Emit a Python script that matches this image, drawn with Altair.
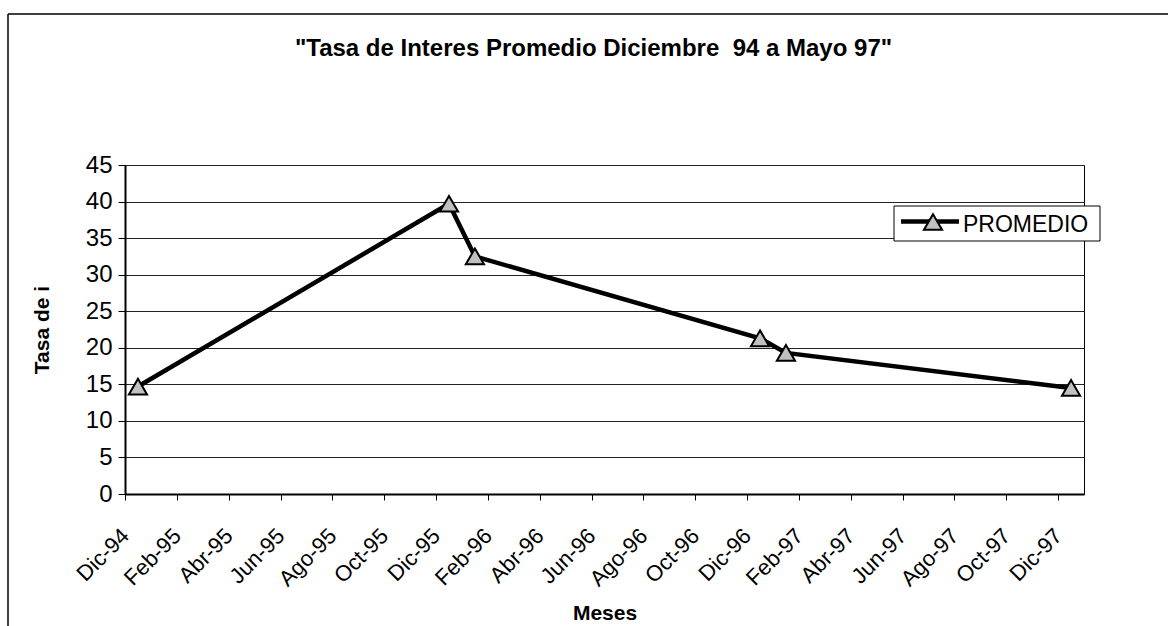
import altair as alt
import pandas as pd

# ---- data ----
meses = ["Dic-94", "Dic-95", "Ene-96", "Dic-96", "Ene-97", "Dic-97"]
promedio = [14.7, 39.7, 32.5, 21.3, 19.3, 14.5]
serie = "PROMEDIO"
tick_labels = ["Dic-94", "Feb-95", "Abr-95", "Jun-95", "Ago-95", "Oct-95",
               "Dic-95", "Feb-96", "Abr-96", "Jun-96", "Ago-96", "Oct-96",
               "Dic-96", "Feb-97", "Abr-97", "Jun-97", "Ago-97", "Oct-97",
               "Dic-97"]
# double space in the original kept with a non-breaking space
titulo = '"Tasa de Interes Promedio Diciembre \u00a094 a Mayo 97"'
y_titulo = "Tasa de i"
x_titulo = "Meses"

abbr = {"Ene": 1, "Feb": 2, "Mar": 3, "Abr": 4, "May": 5, "Jun": 6,
        "Jul": 7, "Ago": 8, "Sep": 9, "Oct": 10, "Nov": 11, "Dic": 12}


def month_index(lbl):
    m, y = lbl.split("-")
    return (int(y) - 94) * 12 + abbr[m] - 12  # Dic-94 -> 0


# Excel date axis: each month is a slot, point centred in its slot
df = pd.DataFrame({
    "mes": meses,
    "pos": [month_index(m) + 0.5 for m in meses],
    "valor": promedio,
})

FONT = "Liberation Sans"
W, H = 959, 329
PAD = {"left": 125, "top": 165, "right": 84, "bottom": 132}

label_expr = "[" + ",".join("'%s'" % t for t in tick_labels) + "][round(datum.value/2)]"
n_months = month_index(tick_labels[-1]) + 1

x_enc = alt.X("pos:Q",
              scale=alt.Scale(domain=[0, n_months], nice=False, zero=False),
              axis=alt.Axis(values=list(range(0, n_months, 2)), labelExpr=label_expr,
                            labelAngle=-45, labelAlign="right", labelBaseline="middle",
                            labelPadding=32, labelFont=FONT, labelFontSize=22,
                            labelColor="black", tickColor="black", tickSize=6,
                            domainColor="black", domainWidth=2, grid=False,
                            title=x_titulo, titleFont=FONT, titleFontSize=21,
                            titleFontWeight="bold", titleColor="black",
                            titleY=125, titleBaseline="alphabetic", labelOverlap=False))
y_enc = alt.Y("valor:Q",
              scale=alt.Scale(domain=[0, 45], nice=False),
              axis=alt.Axis(values=list(range(0, 46, 5)), labelFont=FONT, labelFontSize=24,
                            labelColor="black", tickColor="black", tickSize=7,
                            labelPadding=6, domainColor="black", domainWidth=2,
                            labelOverlap=False,
                            grid=True, gridColor="#222", gridWidth=1,
                            title=y_titulo, titleFont=FONT, titleFontSize=21,
                            titleFontWeight="bold", titleColor="black",
                            titleX=-83, titleY=H / 2, titleAngle=-90,
                            titleAlign="center", titleBaseline="middle"))

line = alt.Chart(df).mark_line(color="black", strokeWidth=4.5).encode(x=x_enc, y=y_enc)
pts = alt.Chart(df).mark_point(shape="triangle-up", size=330, filled=True,
                               fill="#c0c0c0", stroke="black", strokeWidth=2,
                               opacity=1).encode(x=x_enc, y=y_enc)

one = alt.Data(values=[{"k": 0}])

# chart-area frame (top and left edges)
frame_top = alt.Chart(one).mark_rule(color="black", strokeWidth=1.5).encode(
    x=alt.value(-117), x2=alt.value(1043), y=alt.value(-151))
frame_left = alt.Chart(one).mark_rule(color="black", strokeWidth=1.5).encode(
    x=alt.value(-117), y=alt.value(-151), y2=alt.value(461))

title_txt = alt.Chart(one).mark_text(font=FONT, fontSize=24, fontWeight="bold",
                                     align="center", baseline="alphabetic",
                                     color="black").encode(
    x=alt.value(468.5), y=alt.value(-109), text=alt.value(titulo))

# legend
leg_box = alt.Chart(one).mark_rect(fill="white", stroke="black", strokeWidth=1).encode(
    x=alt.value(769), x2=alt.value(975), y=alt.value(41), y2=alt.value(76))
leg_line = alt.Chart(one).mark_rule(color="black", strokeWidth=4.5).encode(
    x=alt.value(776), x2=alt.value(834), y=alt.value(56.5))
leg_pt = alt.Chart(one).mark_point(shape="triangle-up", size=330, filled=True,
                                   fill="#c0c0c0", stroke="black", strokeWidth=2,
                                   opacity=1).encode(x=alt.value(808), y=alt.value(57))
leg_txt = alt.Chart(one).mark_text(font=FONT, fontSize=23, align="left",
                                   baseline="alphabetic", color="black").encode(
    x=alt.value(838), y=alt.value(66.5), text=alt.value(serie))

chart = alt.layer(line, pts, frame_top, frame_left, title_txt,
                  leg_box, leg_line, leg_pt, leg_txt).properties(
    width=W, height=H, padding=PAD,
    autosize=alt.AutoSizeParams(type="none"),
    background="white",
).configure_view(stroke="black", strokeWidth=1)

chart.save("out.html", embed_options={"renderer": "svg", "actions": False})
